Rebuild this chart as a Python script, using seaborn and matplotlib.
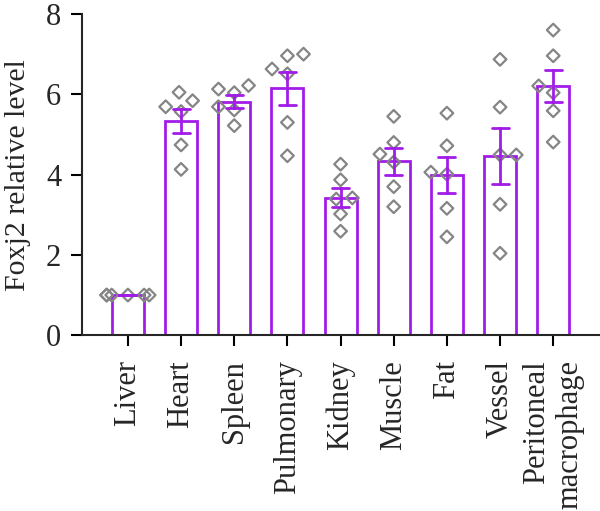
import pandas as pd
import numpy as np
import seaborn as sns
import matplotlib.pyplot as plt
from matplotlib.markers import MarkerStyle
from matplotlib.transforms import Affine2D

tissues = [
    'Liver', 'Heart', 'Spleen', 'Pulmonary', 'Kidney',
    'Muscle', 'Fat', 'Vessel', 'Peritoneal\nmacrophage',
]

liver = [1.0, 1.0, 1.0, 1.0, 1.0, 1.0]
heart = [5.84, 6.05, 5.69, 5.57, 4.74, 4.13]
spleen = [6.13, 6.22, 6.04, 5.61, 5.69, 5.22]
pulmonary = [7.0, 6.96, 6.51, 6.63, 5.30, 4.47]
kidney = [4.26, 3.87, 3.39, 3.42, 3.02, 2.59]
muscle = [5.45, 4.80, 4.51, 4.31, 3.70, 3.20]
fat = [5.53, 4.72, 4.06, 4.01, 3.16, 2.45]
vessel = [6.87, 5.68, 4.49, 4.49, 3.26, 2.04]
peritoneal = [7.60, 6.96, 6.21, 6.04, 5.59, 4.81]

y_ticks = [0, 2, 4, 6, 8]

purple = '#A21CE8'
grey = '#858585'

series = [liver, heart, spleen, pulmonary, kidney, muscle, fat, vessel, peritoneal]
df = pd.DataFrame({
    'tissue': np.repeat(tissues, [len(s) for s in series]),
    'level': np.concatenate(series),
})

sns.set_style('ticks')
plt.rcParams['font.family'] = ['Liberation Serif', 'DejaVu Serif']
plt.rcParams['font.size'] = 22

fig, ax = plt.subplots(figsize=(6, 5.11), dpi=100)
fig.subplots_adjust(left=0.137, right=1.0, bottom=0.344, top=0.9726)

sns.barplot(
    data=df, x='tissue', y='level', order=tissues,
    errorbar='se', capsize=0.32, width=0.6,
    fill=False, color=purple, linewidth=2,
    err_kws={'linewidth': 2, 'color': purple},
    ax=ax,
)

# diamond drawn smaller than the size used for swarm spacing
small_diamond = MarkerStyle('D', transform=Affine2D().scale(0.68))
sns.swarmplot(
    data=df, x='tissue', y='level', order=tissues,
    marker=small_diamond, size=9.5, color=grey,
    edgecolor=grey, linewidth=1.5, warn_thresh=1,
    ax=ax,
)
for coll in ax.collections:
    coll.set_facecolor('none')
    coll.set_edgecolor(grey)
    coll.set_linewidth(1.6)

for line in ax.lines:
    line.set_zorder(5)

ax.set_ylim(0, 8)
ax.set_xlim(-0.86, 8.88)
ax.set_yticks(y_ticks)
ax.set_xlabel('')
ax.set_ylabel('Foxj2 relative level', fontsize=21.5, labelpad=11)

sns.despine(ax=ax)
for side in ['left', 'bottom']:
    ax.spines[side].set_linewidth(1.5)
ax.tick_params(axis='both', length=8, width=1.5, color='black')
ax.tick_params(axis='x', pad=10)
ax.tick_params(axis='y', pad=7)
for lbl in ax.get_xticklabels():
    lbl.set_rotation(90)
    lbl.set_multialignment('right')

plt.savefig('out.png', dpi=100)
